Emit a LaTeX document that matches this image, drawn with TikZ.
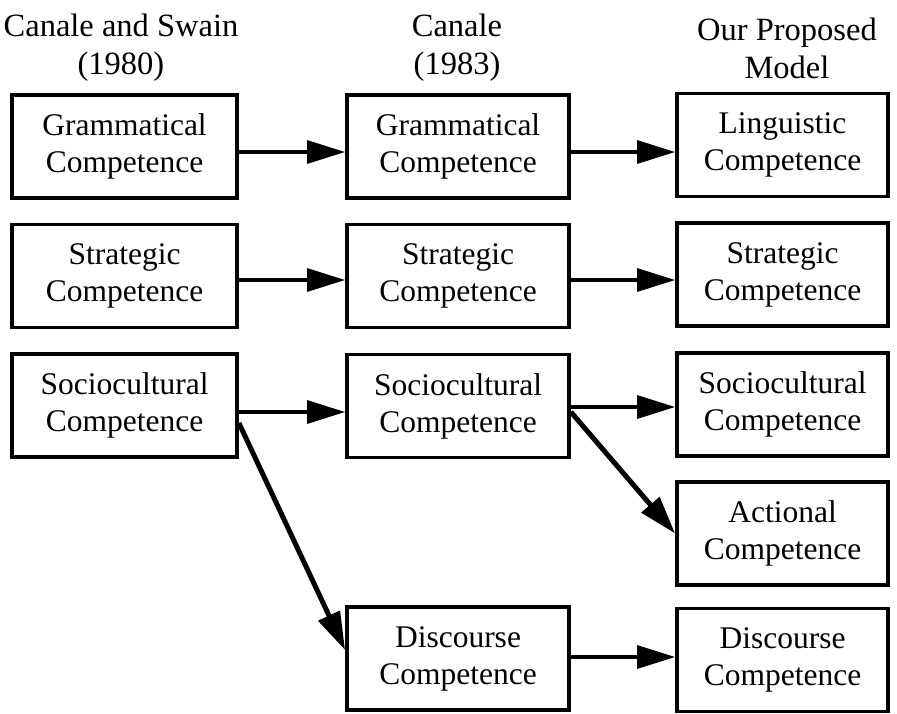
\documentclass[tikz,border=0pt]{standalone}
\usepackage{fontspec}
\setmainfont{Liberation Serif}
\usetikzlibrary{arrows.meta}
\begin{document}
\begin{tikzpicture}[x=1pt,y=-1pt,
 txt/.style={font=\fontsize{31.5}{37}\selectfont,align=center,inner sep=0pt},
 box/.style={txt,draw,line width=3.8pt,minimum height=103pt},
 colA/.style={box,minimum width=225pt},
 colB/.style={box,minimum width=222pt},
 colC/.style={box,minimum width=211pt},
 conn/.style={line width=3.2pt,-{Triangle[length=38pt,width=23pt]}},
 diag/.style={line width=5pt,-{Triangle[length=38pt,width=23pt]}}]
\useasboundingbox (0,0) rectangle (897,713);
% headers
\node[txt,font=\fontsize{32.5}{38}\selectfont] (h1) at (121,48) {Canale and Swain\\(1980)};
\node[txt,font=\fontsize{32.5}{38}\selectfont] (h2) at (457,48) {Canale\\(1983)};
\node[txt,font=\fontsize{32.5}{38}\selectfont] (h3) at (787,48) {Our Proposed\\Model};
% column 1
\node[colA] (g1) at (124.5,146.5) {Grammatical\\Competence};
\node[colA] (s1) at (124.5,276) {Strategic\\Competence};
\node[colA] (so1) at (124.5,405.5) {Sociocultural\\Competence};
% column 2
\node[colB] (g2) at (458,146.5) {Grammatical\\Competence};
\node[colB] (s2) at (458,276) {Strategic\\Competence};
\node[colB] (so2) at (458,406) {Sociocultural\\Competence};
\node[colB] (d2) at (458,658.5) {Discourse\\Competence};
% column 3
\node[colC] (l3) at (782.5,145) {Linguistic\\Competence};
\node[colC] (s3) at (782.5,274.5) {Strategic\\Competence};
\node[colC] (so3) at (782.5,404.5) {Sociocultural\\Competence};
\node[colC] (a3) at (782.5,533.5) {Actional\\Competence};
\node[colC] (d3) at (782.5,660) {Discourse\\Competence};
% connectors
\draw[conn] ([yshift=-5.5pt]g1.east) -- ([yshift=-5.5pt]g2.west);
\draw[conn] ([yshift=-5.5pt]g2.east) -- ([yshift=-7pt]l3.west);
\draw[conn] ([yshift=-4pt]s1.east) -- ([yshift=-4pt]s2.west);
\draw[conn] ([yshift=-4pt]s2.east) -- ([yshift=-5.5pt]s3.west);
\draw[conn] ([yshift=-6.5pt]so1.east) -- ([yshift=-6pt]so2.west);
\draw[conn] ([yshift=-1pt]so2.east) -- ([yshift=-2.5pt]so3.west);
\draw[diag] ([yshift=-17.5pt]so1.east) -- ([yshift=8.5pt]d2.west);
\draw[diag] ([yshift=-6pt]so2.east) -- (a3.west);
\draw[conn] ([yshift=1.5pt]d2.east) -- ([yshift=3pt]d3.west);
\end{tikzpicture}
\end{document}
